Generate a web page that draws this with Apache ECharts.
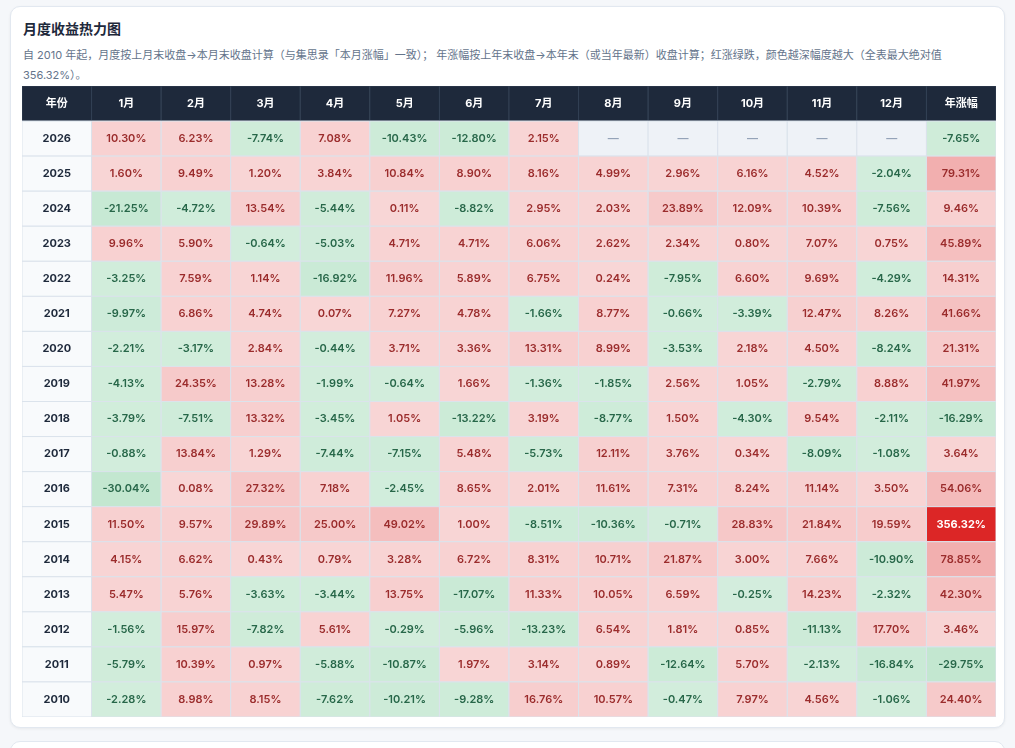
<!DOCTYPE html>
<html>
<head>
<meta charset="utf-8">
<script src="https://cdn.jsdelivr.net/npm/echarts@6/dist/echarts.min.js"></script>
<style>
  body { margin: 0; background: #f5f7fa; font-family: Inter, "Noto Sans CJK SC", sans-serif; }
  .card { position: absolute; left: 10px; top: 6px; width: 993px; height: 720px; background: #fff;
          border: 1px solid #e2e8f0; border-radius: 10px; box-shadow: 0 1px 3px rgba(0,0,0,0.06); }
  .card2 { position: absolute; left: 10px; top: 741px; width: 993px; height: 40px; background: #fff;
           border: 1px solid #e2e8f0; border-radius: 10px; }
  h3 { position: absolute; left: 12px; top: 11px; margin: 0; font-size: 14px; color: #1e293b; font-weight: 700; }
  .sub { position: absolute; left: 12px; top: 38px; width: 960px; font-size: 11px; color: #64748b; line-height: 20px; }
  #chart { position: absolute; left: 11px; top: 79px; width: 974px; height: 631px; }
</style>
</head>
<body>
<div class="card">
  <h3>月度收益热力图</h3>
  <div class="sub">自 2010 年起，月度按上月末收盘→本月末收盘计算（与集思录「本月涨幅」一致）； 年涨幅按上年末收盘→本年末（或当年最新）收盘计算；红涨绿跌，颜色越深幅度越大（全表最大绝对值 356.32%）。</div>
  <div id="chart"></div>
</div>
<div class="card2"></div>
<script>
var headers = ['年份', '1月', '2月', '3月', '4月', '5月', '6月', '7月', '8月', '9月', '10月', '11月', '12月', '年涨幅'];
var years = ['2026', '2025', '2024', '2023', '2022', '2021', '2020', '2019', '2018', '2017', '2016', '2015', '2014', '2013', '2012', '2011', '2010'];
var monthly = [
  [10.30, 6.23, -7.74, 7.08, -10.43, -12.80, 2.15, null, null, null, null, null],
  [1.60, 9.49, 1.20, 3.84, 10.84, 8.90, 8.16, 4.99, 2.96, 6.16, 4.52, -2.04],
  [-21.25, -4.72, 13.54, -5.44, 0.11, -8.82, 2.95, 2.03, 23.89, 12.09, 10.39, -7.56],
  [9.96, 5.90, -0.64, -5.03, 4.71, 4.71, 6.06, 2.62, 2.34, 0.80, 7.07, 0.75],
  [-3.25, 7.59, 1.14, -16.92, 11.96, 5.89, 6.75, 0.24, -7.95, 6.60, 9.69, -4.29],
  [-9.97, 6.86, 4.74, 0.07, 7.27, 4.78, -1.66, 8.77, -0.66, -3.39, 12.47, 8.26],
  [-2.21, -3.17, 2.84, -0.44, 3.71, 3.36, 13.31, 8.99, -3.53, 2.18, 4.50, -8.24],
  [-4.13, 24.35, 13.28, -1.99, -0.64, 1.66, -1.36, -1.85, 2.56, 1.05, -2.79, 8.88],
  [-3.79, -7.51, 13.32, -3.45, 1.05, -13.22, 3.19, -8.77, 1.50, -4.30, 9.54, -2.11],
  [-0.88, 13.84, 1.29, -7.44, -7.15, 5.48, -5.73, 12.11, 3.76, 0.34, -8.09, -1.08],
  [-30.04, 0.08, 27.32, 7.18, -2.45, 8.65, 2.01, 11.61, 7.31, 8.24, 11.14, 3.50],
  [11.50, 9.57, 29.89, 25.00, 49.02, 1.00, -8.51, -10.36, -0.71, 28.83, 21.84, 19.59],
  [4.15, 6.62, 0.43, 0.79, 3.28, 6.72, 8.31, 10.71, 21.87, 3.00, 7.66, -10.90],
  [5.47, 5.76, -3.63, -3.44, 13.75, -17.07, 11.33, 10.05, 6.59, -0.25, 14.23, -2.32],
  [-1.56, 15.97, -7.82, 5.61, -0.29, -5.96, -13.23, 6.54, 1.81, 0.85, -11.13, 17.70],
  [-5.79, 10.39, 0.97, -5.88, -10.87, 1.97, 3.14, 0.89, -12.64, 5.70, -2.13, -16.84],
  [-2.28, 8.98, 8.15, -7.62, -10.21, -9.28, 16.76, 10.57, -0.47, 7.97, 4.56, -1.06]
];
var annual = [-7.65, 79.31, 9.46, 45.89, 14.31, 41.66, 21.31, 41.97, -16.29, 3.64, 54.06, 356.32, 78.85, 42.30, 3.46, -29.75, 24.40];

var maxAbs = 0;
monthly.forEach(function (r) { r.forEach(function (v) { if (v != null) maxAbs = Math.max(maxAbs, Math.abs(v)); }); });
annual.forEach(function (v) { maxAbs = Math.max(maxAbs, Math.abs(v)); });

function mix(rgb, a) {
  return 'rgb(' + rgb.map(function (c) { return Math.round(255 - a * (255 - c)); }).join(',') + ')';
}
function cellStyle(v) {
  if (v == null) return { bg: '#eef2f7', fg: '#94a3b8', text: '—' };
  var r = Math.abs(v) / maxAbs;
  var a = 0.19 + 0.81 * r;
  var up = v >= 0;
  return {
    bg: mix(up ? [220, 38, 38] : [22, 163, 74], a),
    fg: r > 0.5 ? '#ffffff' : (up ? '#9b2c2c' : '#276749'),
    text: v.toFixed(2) + '%'
  };
}

var cells = [];
headers.forEach(function (h, i) {
  cells.push({ value: [i, 0], t: h, bg: '#1e293b', fg: '#ffffff' });
});
years.forEach(function (y, ri) {
  cells.push({ value: [0, ri + 1], t: y, bg: '#f8fafc', fg: '#1e293b' });
  monthly[ri].concat([annual[ri]]).forEach(function (v, ci) {
    var s = cellStyle(v);
    cells.push({ value: [ci + 1, ri + 1], t: s.text, bg: s.bg, fg: s.fg });
  });
});

var rowCats = ['h'].concat(years);
var chart = echarts.init(document.getElementById('chart'));
chart.setOption({
  animation: false,
  grid: { left: 0, right: 0, top: 0, bottom: 0 },
  xAxis: { type: 'category', data: headers, show: false },
  yAxis: { type: 'category', data: rowCats, inverse: true, show: false },
  series: [{
    type: 'custom',
    data: cells,
    renderItem: function (params, api) {
      var item = cells[params.dataIndex];
      var c = api.coord([api.value(0), api.value(1)]);
      var s = api.size([1, 1]);
      var bold = item.value[0] === 0 || item.value[1] === 0;
      return {
        type: 'rect',
        shape: { x: c[0] - s[0] / 2, y: c[1] - s[1] / 2, width: s[0], height: s[1] },
        style: {
          fill: item.bg, stroke: item.value[1] === 0 ? '#334155' : '#dbe3ec', lineWidth: 1,
          text: item.t,
          textFill: item.fg,
          fontSize: 11,
          fontWeight: (bold || item.fg === '#ffffff') ? 'bold' : 600,
          fontFamily: 'Inter, "Noto Sans CJK SC", sans-serif',
          textPosition: 'inside'
        }
      };
    }
  }]
});
</script>
</body>
</html>
